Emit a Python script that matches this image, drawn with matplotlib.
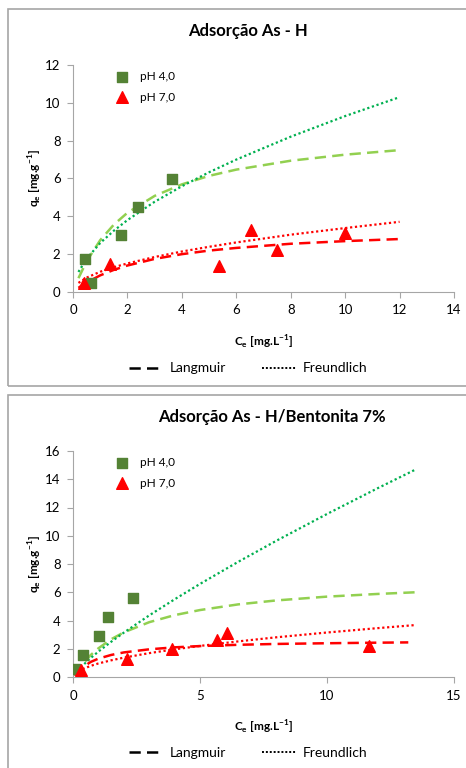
import matplotlib
matplotlib.use('Agg')
from matplotlib import pyplot as plt
from matplotlib.lines import Line2D
from matplotlib.patches import Rectangle

plt.rcParams['font.family'] = ['Lato', 'DejaVu Sans']

# --- Adsorção As - H ---
h_ce_ph4 = [0.45, 0.65, 1.75, 2.4, 3.65]
h_qe_ph4 = [1.75, 0.45, 3.0, 4.5, 5.95]
h_ce_ph7 = [0.4, 1.35, 5.35, 6.55, 7.5, 10.0]
h_qe_ph7 = [0.5, 1.5, 1.4, 3.3, 2.2, 3.1]

h_fit_x = [0.2, 0.5, 1, 1.5, 2, 3, 4, 5, 6, 8, 10, 12]
h_lang_ph4 = [0.73, 1.62, 2.74, 3.56, 4.19, 5.08, 5.69, 6.14, 6.47, 6.94, 7.26, 7.5]
h_freu_ph4 = [1.06, 1.76, 2.59, 3.24, 3.80, 4.77, 5.59, 6.33, 7.00, 8.21, 9.30, 10.3]
h_lang_ph7 = [0.22, 0.5, 0.88, 1.17, 1.40, 1.75, 2.0, 2.19, 2.33, 2.55, 2.69, 2.8]
h_freu_ph7 = [0.48, 0.76, 1.07, 1.31, 1.51, 1.85, 2.14, 2.39, 2.62, 3.03, 3.38, 3.71]

# --- Adsorção As - H/Bentonita 7% ---
b_ce_ph4 = [0.08, 0.4, 1.02, 1.39, 2.37]
b_qe_ph4 = [0.55, 1.55, 2.9, 4.27, 5.6]
b_ce_ph7 = [0.31, 2.11, 3.88, 5.65, 6.07, 11.67]
b_qe_ph7 = [0.5, 1.3, 1.96, 2.6, 3.13, 2.2]

b_fit_x = [0.05, 0.3, 0.7, 1, 1.5, 2, 3, 4, 5, 6.5, 8, 10, 12, 13.5]
b_lang_ph4 = [0.14, 0.76, 1.56, 2.03, 2.67, 3.16, 3.88, 4.38, 4.74, 5.14, 5.42, 5.69, 5.88, 6.0]
b_freu_ph4 = [0.16, 0.68, 1.35, 1.80, 2.49, 3.14, 4.36, 5.50, 6.59, 8.15, 9.64, 11.54, 13.37, 14.7]
b_lang_x_ph7 = [0.05, 0.3, 0.7, 1, 1.5, 2, 3, 4, 5, 6.5, 8, 10, 12, 13.2]
b_lang_ph7 = [0.12, 0.6, 1.07, 1.30, 1.56, 1.74, 1.96, 2.10, 2.19, 2.28, 2.34, 2.39, 2.43, 2.45]
b_freu_ph7 = [0.20, 0.51, 0.79, 0.96, 1.18, 1.37, 1.69, 1.96, 2.20, 2.52, 2.81, 3.15, 3.46, 3.68]

GREEN_PTS = '#548235'
LIGHT_GREEN = '#92D050'
GREEN = '#00B050'
RED = '#FF0000'
GREY = '#A6A6A6'


def draw_panel(fig, rect, title, title_xy, ce4, qe4, ce7, qe7,
               lx4, lang4, fx4, freu4, lx7, lang7, fx7, freu7,
               xmax, xstep, ymax, ystep):
    '''
    Draw one isotherm panel
    '''
    ax = fig.add_axes(rect)
    dash = (0, (4.5, 2.5))
    dot = (0, (1, 1.2))
    ax.plot(lx4, lang4, color=LIGHT_GREEN, lw=1.8, linestyle=dash)
    ax.plot(fx4, freu4, color=GREEN, lw=1.6, linestyle=dot)
    ax.plot(lx7, lang7, color=RED, lw=1.8, linestyle=dash)
    ax.plot(fx7, freu7, color=RED, lw=1.6, linestyle=dot)
    sq = ax.scatter(ce4, qe4, marker='s', s=55, color=GREEN_PTS, zorder=3, label='pH 4,0')
    tr = ax.scatter(ce7, qe7, marker='^', s=70, color=RED, zorder=3, label='pH 7,0')

    ax.set_xlim(0, xmax)
    ax.set_ylim(0, ymax)
    ax.set_xticks(range(0, xmax + 1, xstep))
    ax.set_yticks(range(0, ymax + 1, ystep))
    for side in ('top', 'right'):
        ax.spines[side].set_visible(False)
    for side in ('left', 'bottom'):
        ax.spines[side].set_color(GREY)
    ax.tick_params(direction='out', color=GREY, length=4, labelsize=9.5, pad=5)
    ax.set_xlabel(r'C$_\mathregular{e}$ [mg.L$^\mathregular{-1}$]', fontsize=8.5,
                  fontweight='bold', labelpad=12)
    ax.set_ylabel(r'q$_\mathregular{e}$ [mg.g$^\mathregular{-1}$]', fontsize=8.5,
                  fontweight='bold', labelpad=1)
    fig.text(title_xy[0], title_xy[1], title, ha='center', va='center',
             fontsize=12, fontweight='bold')

    leg = ax.legend(handles=[sq, tr], loc='upper left', bbox_to_anchor=(0.07, 1.02),
                    frameon=False, fontsize=8.5, handletextpad=0.5, labelspacing=0.8,
                    scatterpoints=1)
    ax.add_artist(leg)

    lines = [Line2D([], [], color='black', lw=1.8, linestyle=(0, (4.5, 2.5))),
             Line2D([], [], color='black', lw=1.4, linestyle=(0, (1, 1)))]
    ax.legend(lines, ['Langmuir', 'Freundlich'], loc='upper center',
              bbox_to_anchor=(0.46, -0.255), ncol=2, frameon=False, fontsize=10,
              handlelength=2.5, columnspacing=2.6, handletextpad=0.4)
    return ax


fig = plt.figure(figsize=(4.66, 7.68), dpi=100)

fig.patches.append(Rectangle((8 / 466, 1 - 386 / 768), 1.1, 377 / 768,
                             transform=fig.transFigure, fill=False,
                             edgecolor=GREY, lw=1.2, zorder=0))
fig.patches.append(Rectangle((8 / 466, -0.05), 1.1, 1 - 395 / 768 + 0.05,
                             transform=fig.transFigure, fill=False,
                             edgecolor=GREY, lw=1.2, zorder=0))

draw_panel(fig, [73 / 466, 1 - 292 / 768, 381 / 466, 227 / 768],
           'Adsorção As - H', (248 / 466, 1 - 31 / 768),
           h_ce_ph4, h_qe_ph4, h_ce_ph7, h_qe_ph7,
           h_fit_x, h_lang_ph4, h_fit_x, h_freu_ph4,
           h_fit_x, h_lang_ph7, h_fit_x, h_freu_ph7,
           14, 2, 12, 2)

draw_panel(fig, [73 / 466, 1 - 677 / 768, 381 / 466, 226 / 768],
           'Adsorção As - H/Bentonita 7%', (272 / 466, 1 - 417 / 768),
           b_ce_ph4, b_qe_ph4, b_ce_ph7, b_qe_ph7,
           b_fit_x, b_lang_ph4, b_fit_x, b_freu_ph4,
           b_lang_x_ph7, b_lang_ph7, b_fit_x, b_freu_ph7,
           15, 5, 16, 2)

fig.savefig('out.png', dpi=100)
